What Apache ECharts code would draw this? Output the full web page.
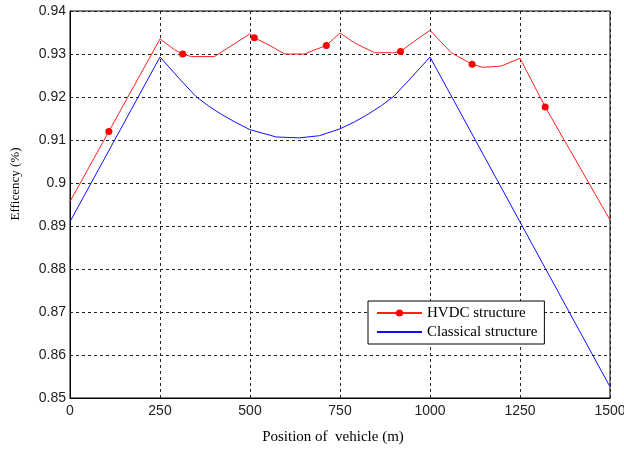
<!DOCTYPE html>
<html>
<head>
<meta charset="utf-8">
<script src="https://cdn.jsdelivr.net/npm/echarts@6/dist/echarts.min.js"></script>
<style>
  html, body { margin: 0; padding: 0; background: #fff; }
  #chart { width: 624px; height: 450px; }
</style>
</head>
<body>
<div id="chart"></div>
<script>
// Efficiency along the track, HVDC supply structure (m, efficiency)
const hvdcPos = [0, 108, 250, 290, 313, 337, 401, 500, 512, 559, 596, 651, 712, 750, 790, 846, 901, 918, 957, 1000, 1059, 1117, 1147, 1198, 1250, 1320, 1500];
const hvdcEff = [0.8957, 0.9120, 0.9335, 0.9310, 0.9300, 0.9294, 0.9294, 0.9347, 0.9338, 0.9318, 0.9300, 0.9300, 0.9320, 0.9349, 0.9326, 0.9303, 0.9303, 0.9306, 0.9330, 0.9355, 0.9303, 0.9276, 0.9269, 0.9272, 0.9290, 0.9177, 0.8914];
// positions where the HVDC curve carries a dot marker
const hvdcMarkerPos = [108, 313, 512, 712, 918, 1117, 1320];

// Efficiency along the track, classical supply structure
const classicalPos = [0, 250, 300, 350, 385, 420, 460, 500, 573, 637, 693, 750, 790, 830, 865, 900, 950, 1000, 1500];
const classicalEff = [0.8910, 0.9293, 0.9246, 0.9201, 0.9179, 0.9160, 0.9141, 0.9124, 0.9107, 0.9105, 0.9110, 0.9126, 0.9142, 0.9161, 0.9180, 0.9202, 0.9247, 0.9293, 0.8526];

const seriesNames = ['HVDC structure', 'Classical structure'];
const xTitle = 'Position of  vehicle (m)';
const yTitle = 'Efficency (%)';

// axis ranges
const xMin = 0, xMax = 1500, xStep = 250;
const yMin = 0.85, yMax = 0.94, yStep = 0.01;

const hvdcData = hvdcPos.map((p, i) => ({
  value: [p, hvdcEff[i]],
  symbol: hvdcMarkerPos.includes(p) ? 'circle' : 'none'
}));
const classicalData = classicalPos.map((p, i) => [p, classicalEff[i]]);

const chart = echarts.init(document.getElementById('chart'), null, { renderer: 'canvas' });

const serif = 'Liberation Serif, Times New Roman, serif';
const sans = 'Liberation Sans, Arial, sans-serif';
const gridDash = { color: '#222', width: 1, type: [3, 3] };

chart.setOption({
  animation: false,
  backgroundColor: '#fff',
  grid: {
    left: 70, top: 11, width: 540, height: 387,
    containLabel: false, outerBoundsMode: 'none',
    show: true, borderColor: '#000', borderWidth: 1, backgroundColor: '#fff'
  },
  xAxis: {
    type: 'value', min: xMin, max: xMax, interval: xStep,
    axisLine: { show: true, lineStyle: { color: '#000', width: 1 } },
    axisTick: { show: false },
    splitLine: { show: true, lineStyle: gridDash },
    axisLabel: {
      color: '#222', fontFamily: sans, fontSize: 14, margin: 6,
      formatter: v => String(v)
    }
  },
  yAxis: {
    type: 'value', min: yMin, max: yMax, interval: yStep,
    axisLine: { show: true, lineStyle: { color: '#000', width: 1 } },
    axisTick: { show: false },
    splitLine: { show: true, lineStyle: gridDash },
    axisLabel: {
      color: '#222', fontFamily: sans, fontSize: 14, margin: 4,
      formatter: v => String(+v.toFixed(2))
    }
  },
  legend: {
    orient: 'vertical',
    left: 368, top: 301,
    data: [
      { name: seriesNames[0] },
      { name: seriesNames[1], itemStyle: { opacity: 0 } }
    ],
    padding: [4, 7, 4, 8],
    itemWidth: 45, itemHeight: 9, itemGap: 3,
    backgroundColor: '#fff',
    borderColor: '#000', borderWidth: 1, borderRadius: 0,
    textStyle: { fontFamily: serif, fontSize: 15, color: '#000', lineHeight: 16 }
  },
  series: [
    {
      name: seriesNames[0],
      type: 'line',
      data: hvdcData,
      symbol: 'circle',
      symbolSize: 7,
      showAllSymbol: true,
      lineStyle: { color: '#ff2020', width: 1 },
      itemStyle: { color: '#ff0000' },
      z: 3
    },
    {
      name: seriesNames[1],
      type: 'line',
      data: classicalData,
      symbol: 'none',
      lineStyle: { color: '#1010ff', width: 1 },
      itemStyle: { color: '#0000ff' },
      z: 2
    }
  ],
  graphic: [
    {
      type: 'text', x: 333, y: 437,
      style: { text: xTitle, fontFamily: serif, fontSize: 15, fill: '#000', align: 'center', verticalAlign: 'middle' }
    },
    {
      type: 'text', x: 16, y: 184, rotation: Math.PI / 2,
      style: { text: yTitle, fontFamily: serif, fontSize: 13, fill: '#000', align: 'center', verticalAlign: 'middle' }
    }
  ]
});
</script>
</body>
</html>
